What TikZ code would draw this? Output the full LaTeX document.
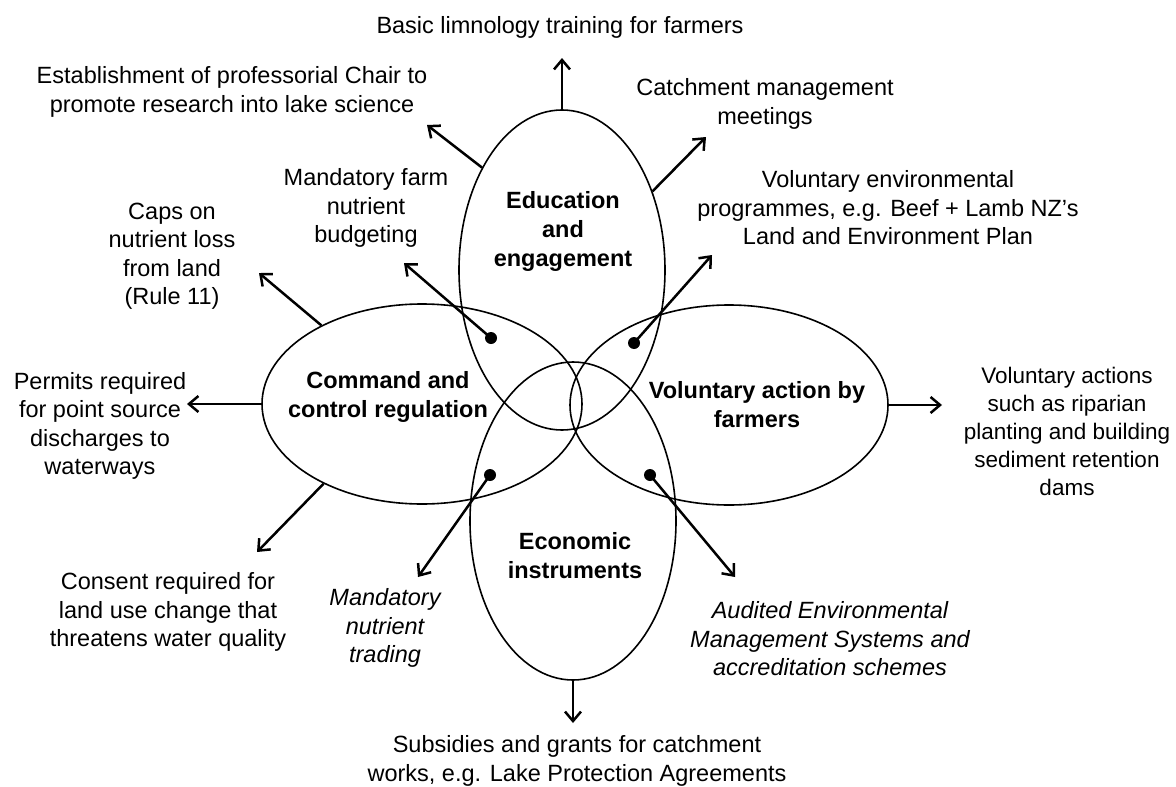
\documentclass[tikz,border=0pt]{standalone}
\usepackage{fontspec}
\setmainfont{Liberation Sans}
\usetikzlibrary{shapes.geometric,arrows.meta}
\begin{document}
\begin{tikzpicture}[x=1pt,y=-1pt,
  lbl/.style={align=center, font=\fontsize{23.5}{28.5}\selectfont, inner sep=0pt},
  ilbl/.style={align=center, font=\fontsize{23.5}{28.5}\selectfont\itshape, inner sep=0pt},
  blbl/.style={align=center, font=\fontsize{23.5}{29}\selectfont\bfseries, inner sep=0pt},
  ell/.style={ellipse, draw, line width=1.6pt, inner sep=0pt},
  arr/.style={line width=2.5pt, -{Straight Barb[length=9.5pt,width=16pt]}},
  dotc/.style={circle, fill, inner sep=0pt, minimum size=12pt}
]
\useasboundingbox (0,0) rectangle (1176,787);
% ellipses
\node[ell, minimum width=206pt, minimum height=320pt] (edu) at (562,270) {};
\node[ell, minimum width=206pt, minimum height=318pt] (eco) at (573,521) {};
\node[ell, minimum width=320pt, minimum height=200pt] (cmd) at (422,404) {};
\node[ell, minimum width=318pt, minimum height=200pt] (vol) at (729,405) {};
% ellipse labels
\node[blbl] (edut) at (563,231) {Education\\and\\engagement};
\node[blbl] (cmdt) at (388,397) {Command and\\control regulation};
\node[blbl] (volt) at (757,405) {Voluntary action by\\farmers};
\node[blbl] (ecot) at (575,556) {Economic\\instruments};
% outer labels
\node[lbl] (basic) at (560,27) {Basic limnology training for farmers};
\node[lbl] (estab) at (232,92) {Establishment of professorial Chair to\\promote research into lake science};
\node[lbl] (catch) at (765,104) {Catchment management\\meetings};
\node[lbl] (mfarm) at (366,208) {Mandatory farm\\nutrient\\budgeting};
\node[lbl] (volenv) at (888,208) {Voluntary environmental\\programmes, e.g. Beef + Lamb NZ’s\\Land and Environment Plan};
\node[lbl] (caps) at (172,256) {Caps on\\nutrient loss\\from land\\(Rule 11)};
\node[lbl] (permits) at (100,426) {Permits required\\for point source\\discharges to\\waterways};
\node[lbl] (consent) at (168,612) {Consent required for\\land use change that\\threatens water quality};
\node[ilbl] (mtrade) at (385,628) {Mandatory\\nutrient\\trading};
\node[ilbl] (audit) at (830,639) {Audited Environmental\\Management Systems and\\accreditation schemes};
\node[lbl] (subs) at (577,761) {Subsidies and grants for catchment\\works, e.g. Lake Protection Agreements};
\node[lbl, font=\fontsize{22.5}{28}\selectfont] (volact) at (1067,431) {Voluntary actions\\such as riparian\\planting and building\\sediment retention\\dams};
% dots
\node[dotc] (d1) at (491,338) {};
\node[dotc] (d2) at (634,343) {};
\node[dotc] (d3) at (490,475) {};
\node[dotc] (d4) at (650,475) {};
% arrow tips
\coordinate (tbasic) at (562,58);
\coordinate (testab) at (427,125);
\coordinate (tcatch) at (706,137);
\coordinate (tmfarm) at (404,263);
\coordinate (tvolenv) at (712,255);
\coordinate (tcaps) at (259,273);
\coordinate (tpermits) at (187,404);
\coordinate (tconsent) at (257,552);
\coordinate (tmtrade) at (418,577);
\coordinate (taudit) at (735,577);
\coordinate (tsubs) at (573,723);
\coordinate (tvolact) at (942,405);
% arrows
\draw[arr] (edu.north) -- (tbasic);
\draw[arr] (edu.128.5) -- (testab);
\draw[arr] (edu.41) -- (tcatch);
\draw[arr] (d1.center) -- (tmfarm);
\draw[arr] (d2.center) -- (tvolenv);
\draw[arr] (cmd.142.6) -- (tcaps);
\draw[arr] (cmd.west) -- (tpermits);
\draw[arr] (cmd.219.5) -- (tconsent);
\draw[arr] (d3.center) -- (tmtrade);
\draw[arr] (d4.center) -- (taudit);
\draw[arr] (eco.south) -- (tsubs);
\draw[arr] (vol.east) -- (tvolact);
\end{tikzpicture}
\end{document}
